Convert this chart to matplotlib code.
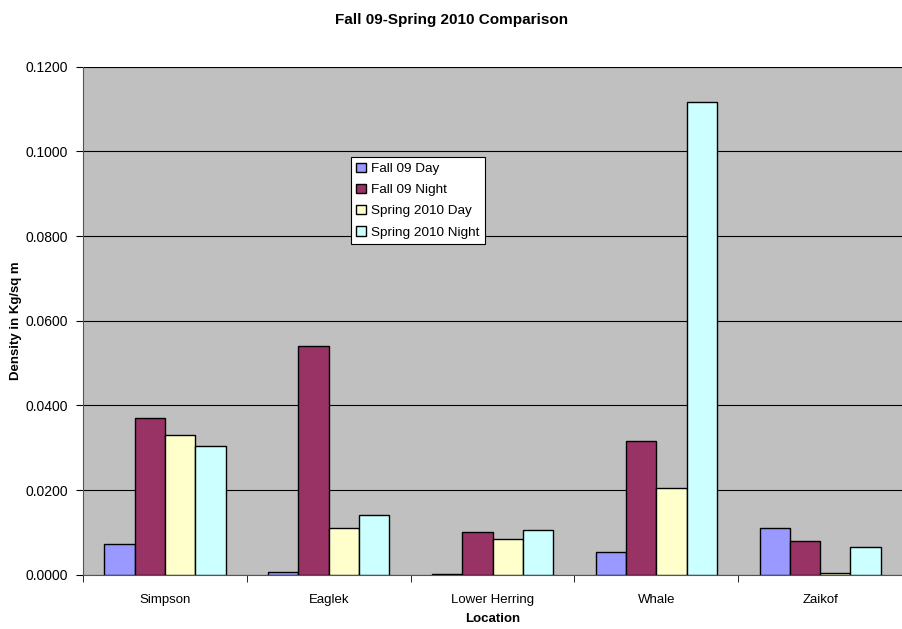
import numpy as np
import matplotlib
matplotlib.use("Agg")
import matplotlib.pyplot as plt

plt.rcParams["font.family"] = ["Liberation Sans", "DejaVu Sans"]

locations = ["Simpson", "Eaglek", "Lower Herring", "Whale", "Zaikof"]
series_names = ["Fall 09 Day", "Fall 09 Night", "Spring 2010 Day", "Spring 2010 Night"]
fall_day = [0.0073, 0.0007, 0.0002, 0.0054, 0.0111]
fall_night = [0.0371, 0.0541, 0.0102, 0.0317, 0.0080]
spring_day = [0.0330, 0.0111, 0.0085, 0.0206, 0.0005]
spring_night = [0.0305, 0.0141, 0.0106, 0.1116, 0.0066]
colors = ["#9999FF", "#993366", "#FFFFCC", "#CCFFFF"]

fig = plt.figure(figsize=(9.03, 6.29), dpi=100)
ax = fig.add_axes([0.092, 0.086, 0.907, 0.808])
ax.set_facecolor("#C0C0C0")

x = np.arange(len(locations))
w = 0.185
for i, (vals, name) in enumerate(zip([fall_day, fall_night, spring_day, spring_night], series_names)):
    ax.bar(x + (i - 1.5) * w, vals, w, color=colors[i], edgecolor="black",
           linewidth=1, label=name, zorder=3)

ax.set_xlim(-0.5, len(locations) - 0.5)
ax.set_ylim(0, 0.12)
ax.set_yticks(np.arange(0, 0.1201, 0.02))
ax.set_yticklabels([f"{v:.4f}" for v in np.arange(0, 0.1201, 0.02)], fontsize=10)
ax.yaxis.grid(True, color="black", linewidth=0.8, zorder=0)
ax.set_xticks(x)
ax.set_xticklabels(locations, fontsize=9.5)
ax.set_xticks(np.arange(-0.5, len(locations)), minor=True)
ax.tick_params(axis="x", which="major", length=0, pad=14)
ax.tick_params(axis="x", which="minor", length=5, color="black")
ax.tick_params(axis="y", length=5, pad=6)
for s in ["top", "right"]:
    ax.spines[s].set_visible(False)
ax.spines["left"].set_color("#555555")
ax.spines["bottom"].set_color("#555555")

ax.set_xlabel("Location", fontsize=9.5, fontweight="bold")
ax.xaxis.set_label_coords(0.5, -0.074)
ax.set_ylabel("Density in Kg/sq m", fontsize=9.5, fontweight="bold")
ax.yaxis.set_label_coords(-0.075, 0.5)
fig.suptitle("Fall 09-Spring 2010 Comparison", fontsize=11, fontweight="bold", y=0.98)

leg = ax.legend(loc="upper left", bbox_to_anchor=(0.327, 0.822), fontsize=9.7,
                frameon=True, fancybox=False, edgecolor="black", framealpha=1,
                handlelength=0.7, handleheight=0.7, handletextpad=0.4,
                borderpad=0.4, labelspacing=0.65, borderaxespad=0)
leg.get_frame().set_linewidth(0.8)

fig.savefig("out.png", dpi=100)
